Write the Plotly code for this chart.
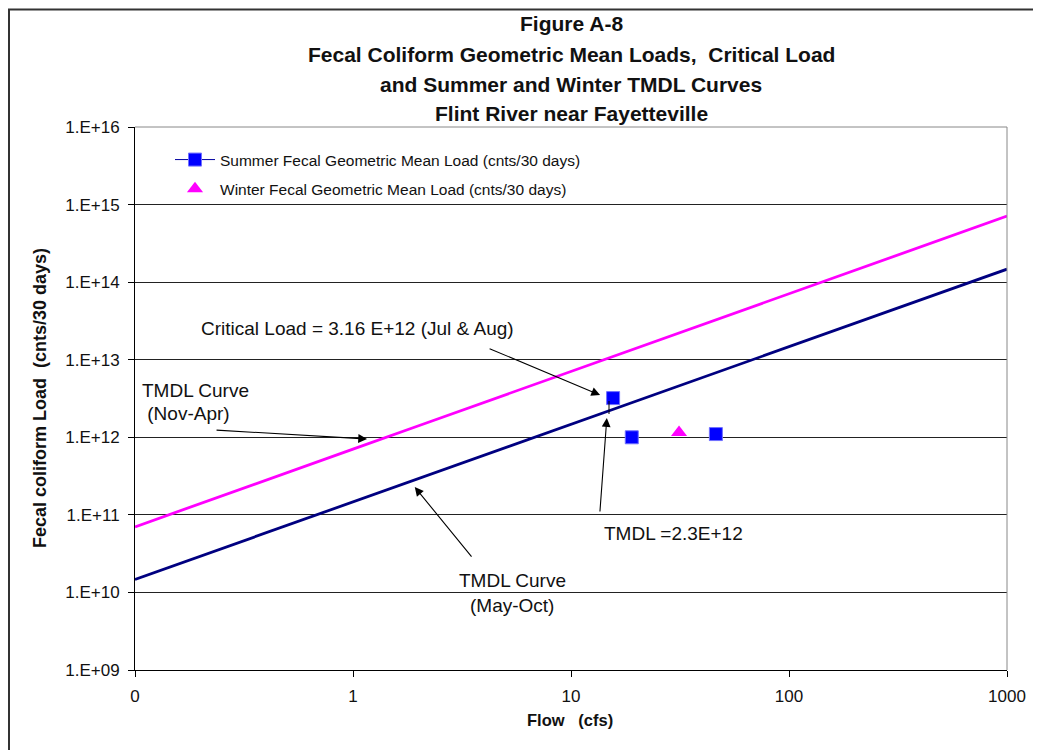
import numpy as np
import plotly.graph_objects as go

# ---- data ----
flow_curve = [0.1, 0.2, 0.5, 1, 2, 5, 10, 20, 50, 100, 200, 500, 1000]
summer_tmdl = [1.47e10, 2.94e10, 7.35e10, 1.47e11, 2.94e11, 7.35e11, 1.47e12,
               2.94e12, 7.35e12, 1.47e13, 2.94e13, 7.35e13, 1.47e14]
winter_tmdl = [7.0e10, 1.41e11, 3.53e11, 7.05e11, 1.41e12, 3.53e12, 7.05e12,
               1.41e13, 3.53e13, 7.05e13, 1.41e14, 3.53e14, 7.1e14]

summer_flow = [15.6, 19.0, 46.2]
summer_load = [3.2e12, 1.0e12, 1.1e12]
winter_flow = [31.3]
winter_load = [1.15e12]

x_tickvals = [0.1, 1, 10, 100, 1000]
x_ticktext = ["0", "1", "10", "100", "1000"]
y_tickvals = [1e9, 1e10, 1e11, 1e12, 1e13, 1e14, 1e15, 1e16]
y_ticktext = ["1.E+09", "1.E+10", "1.E+11", "1.E+12", "1.E+13", "1.E+14", "1.E+15", "1.E+16"]

title_lines = ["Figure A-8",
               "Fecal Coliform Geometric Mean Loads,  Critical Load",
               "and Summer and Winter TMDL Curves",
               "Flint River near Fayetteville"]

FONT = "Liberation Sans, Arial, sans-serif"

# page offset (body margin) and plot area in reference pixels
OFF = 8
W, H = 1041 - OFF, 750 - OFF
L, R, T, B = 135, 1007, 127, 670


def px(xp):
    return (xp - L) / (R - L)


def py(yp):
    return (B - yp) / (B - T)


fig = go.Figure()

fig.add_trace(go.Scatter(x=flow_curve, y=winter_tmdl, mode="lines",
                         line=dict(color="#FF00FF", width=2.8),
                         showlegend=False, hoverinfo="skip"))
fig.add_trace(go.Scatter(x=flow_curve, y=summer_tmdl, mode="lines",
                         line=dict(color="#000080", width=2.8),
                         showlegend=False, hoverinfo="skip"))

# summer points: separated with None so no connecting line is drawn, but legend shows line+marker
sx, sy = [], []
for i, (a, b) in enumerate(zip(summer_flow, summer_load)):
    if i:
        sx.append(None)
        sy.append(None)
    sx.append(a)
    sy.append(b)
fig.add_trace(go.Scatter(x=sx, y=sy, mode="lines+markers", connectgaps=False,
                         name="Summer Fecal Geometric Mean Load (cnts/30 days)",
                         line=dict(color="#0000A0", width=1),
                         marker=dict(symbol="square", size=13, color="#0000FF",
                                     line=dict(color="#7070FF", width=1)),
                         legendgroup="s"))
fig.add_trace(go.Scatter(x=winter_flow, y=winter_load, mode="markers",
                         name="Winter Fecal Geometric Mean Load (cnts/30 days)",
                         marker=dict(symbol="triangle-up", size=14, color="#FF00FF",
                                     line=dict(color="#FF00FF", width=0)),
                         legendgroup="w"))

annotations = []
# title lines
for txt, yp in zip(title_lines, [24, 55, 84, 113]):
    annotations.append(dict(text="<b>%s</b>" % txt, x=0.5, y=py(yp), xref="paper", yref="paper",
                            showarrow=False, xanchor="center", yanchor="middle",
                            font=dict(family=FONT, size=21, color="#111")))

# axis titles
annotations.append(dict(text="<b>Fecal coliform Load  (cnts/30 days)</b>", x=px(40), y=py(398),
                        xref="paper", yref="paper", showarrow=False, textangle=-90,
                        xanchor="center", yanchor="middle",
                        font=dict(family=FONT, size=18, color="#111")))
annotations.append(dict(text="<b>Flow   (cfs)</b>", x=px(570), y=py(720),
                        xref="paper", yref="paper", showarrow=False,
                        xanchor="center", yanchor="middle",
                        font=dict(family=FONT, size=16.5, color="#111")))

# text labels
txtfont = dict(family=FONT, size=19, color="#111")
for txt, xp, yp, anchor in [
        ("Critical Load = 3.16 E+12 (Jul & Aug)", 357, 328, "center"),
        ("TMDL Curve", 140, 390, "left"),
        (" (Nov-Apr)", 140, 413, "left"),
        ("TMDL =2.3E+12", 673, 533, "center"),
        ("TMDL Curve", 512, 580, "center"),
        ("(May-Oct)", 512, 605, "center")]:
    annotations.append(dict(text=txt, x=px(xp), y=py(yp), xref="paper", yref="paper",
                            showarrow=False, xanchor=anchor, yanchor="middle", font=txtfont))

# arrows: head at data position (log coords for log axes), tail offset in pixels
for hx, hy, ax, ay in [
        (13.6, 3.5e12, -112, -47),
        (1.16, 9.5e11, -152, -9),
        (14.6, 1.77e12, -7, 95),
        (1.92, 2.28e11, 58, 71)]:
    annotations.append(dict(text="", x=np.log10(hx), y=np.log10(hy), xref="x", yref="y",
                            showarrow=True, arrowhead=2, arrowsize=1.6, arrowwidth=1.1,
                            arrowcolor="#000", ax=ax, ay=ay, standoff=0))

shapes = [
    # short connector between critical point and curve
    dict(type="line", xref="paper", yref="paper", x0=px(609), x1=px(609), y0=py(401), y1=py(414),
         line=dict(color="#000", width=1)),
    # right border of plot area
    dict(type="line", xref="paper", yref="paper", x0=1, x1=1, y0=0, y1=1,
         line=dict(color="#888", width=1)),
    # top border
    dict(type="line", xref="paper", yref="paper", x0=0, x1=1, y0=1, y1=1,
         line=dict(color="#888", width=1)),
    # outer frame
    dict(type="rect", xref="paper", yref="paper", x0=px(9), x1=px(1038), y0=py(9.5), y1=py(760),
         line=dict(color="#333", width=2), layer="above"),
]

fig.update_layout(
    width=W, height=H,
    margin=dict(l=L - OFF, r=W - (R - OFF), t=T - OFF, b=H - (B - OFF), autoexpand=False),
    paper_bgcolor="white", plot_bgcolor="white",
    font=dict(family=FONT, size=17, color="#111"),
    showlegend=True,
    legend=dict(x=px(170), y=py(143), xanchor="left", yanchor="top",
                bgcolor="rgba(0,0,0,0)", font=dict(family=FONT, size=15.5, color="#111"),
                traceorder="grouped", tracegroupgap=6, itemwidth=40),
    annotations=annotations,
    shapes=shapes,
)

fig.update_xaxes(type="log", range=[-1, 3], tickvals=x_tickvals, ticktext=x_ticktext,
                 showgrid=False, showline=True, linecolor="#000", linewidth=1,
                 ticks="outside", ticklen=6, tickcolor="#000", zeroline=False,
                 tickfont=dict(family=FONT, size=17, color="#111"), ticklabelstandoff=5)
fig.update_yaxes(type="log", range=[9, 16], tickvals=y_tickvals, ticktext=y_ticktext,
                 showgrid=True, gridcolor="#222", gridwidth=1,
                 showline=True, linecolor="#000", linewidth=1,
                 ticks="outside", ticklen=6, tickcolor="#000", zeroline=False,
                 tickfont=dict(family=FONT, size=17, color="#111"), ticklabelstandoff=5)

fig.write_html("out.html")
